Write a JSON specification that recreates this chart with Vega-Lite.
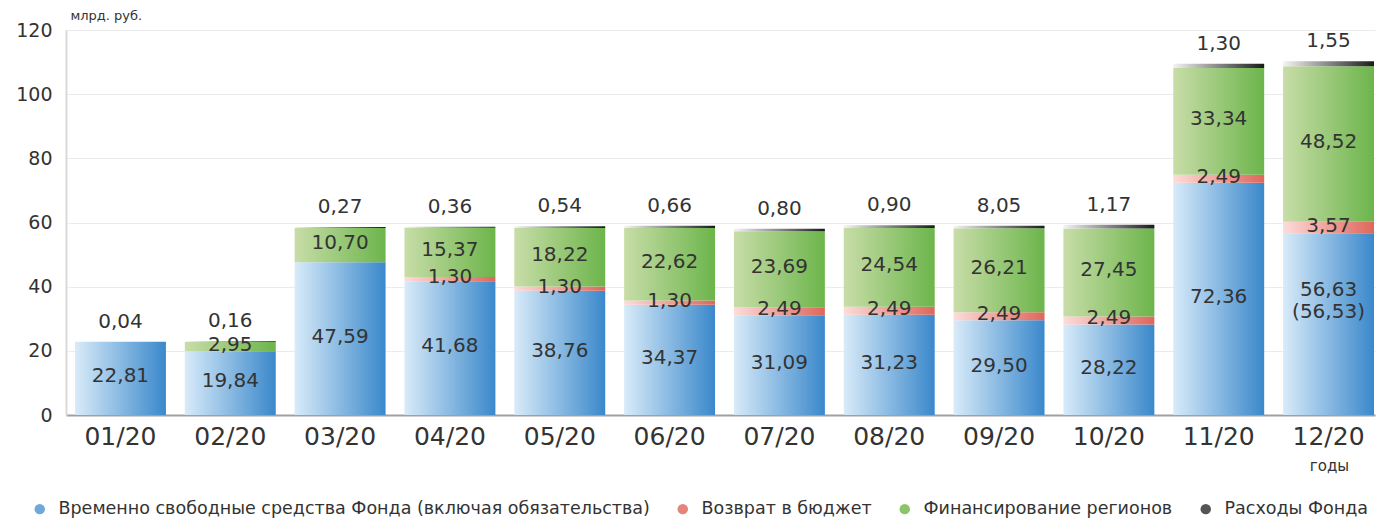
{
  "$schema": "https://vega.github.io/schema/vega-lite/v6.json",
  "autosize": {"type": "none"},
  "width": 1309,
  "height": 385,
  "padding": {"left": 66, "top": 30, "right": 3, "bottom": 103},
  "background": "white",
  "config": {
    "font": "DejaVu Sans",
    "view": {"stroke": null}
  },
  "data": {
    "values": [
      {"month": "01/20", "series": "Временно свободные средства Фонда (включая обязательства)", "order": 1, "value": 22.81, "label": "22,81"},
      {"month": "01/20", "series": "Расходы Фонда", "order": 4, "value": 0.04, "label": "0,04"},
      {"month": "02/20", "series": "Временно свободные средства Фонда (включая обязательства)", "order": 1, "value": 19.84, "label": "19,84"},
      {"month": "02/20", "series": "Финансирование регионов", "order": 3, "value": 2.95, "label": "2,95"},
      {"month": "02/20", "series": "Расходы Фонда", "order": 4, "value": 0.16, "label": "0,16"},
      {"month": "03/20", "series": "Временно свободные средства Фонда (включая обязательства)", "order": 1, "value": 47.59, "label": "47,59"},
      {"month": "03/20", "series": "Финансирование регионов", "order": 3, "value": 10.70, "label": "10,70"},
      {"month": "03/20", "series": "Расходы Фонда", "order": 4, "value": 0.27, "label": "0,27"},
      {"month": "04/20", "series": "Временно свободные средства Фонда (включая обязательства)", "order": 1, "value": 41.68, "label": "41,68"},
      {"month": "04/20", "series": "Возврат в бюджет", "order": 2, "value": 1.30, "label": "1,30"},
      {"month": "04/20", "series": "Финансирование регионов", "order": 3, "value": 15.37, "label": "15,37"},
      {"month": "04/20", "series": "Расходы Фонда", "order": 4, "value": 0.36, "label": "0,36"},
      {"month": "05/20", "series": "Временно свободные средства Фонда (включая обязательства)", "order": 1, "value": 38.76, "label": "38,76"},
      {"month": "05/20", "series": "Возврат в бюджет", "order": 2, "value": 1.30, "label": "1,30"},
      {"month": "05/20", "series": "Финансирование регионов", "order": 3, "value": 18.22, "label": "18,22"},
      {"month": "05/20", "series": "Расходы Фонда", "order": 4, "value": 0.54, "label": "0,54"},
      {"month": "06/20", "series": "Временно свободные средства Фонда (включая обязательства)", "order": 1, "value": 34.37, "label": "34,37"},
      {"month": "06/20", "series": "Возврат в бюджет", "order": 2, "value": 1.30, "label": "1,30"},
      {"month": "06/20", "series": "Финансирование регионов", "order": 3, "value": 22.62, "label": "22,62"},
      {"month": "06/20", "series": "Расходы Фонда", "order": 4, "value": 0.66, "label": "0,66"},
      {"month": "07/20", "series": "Временно свободные средства Фонда (включая обязательства)", "order": 1, "value": 31.09, "label": "31,09"},
      {"month": "07/20", "series": "Возврат в бюджет", "order": 2, "value": 2.49, "label": "2,49"},
      {"month": "07/20", "series": "Финансирование регионов", "order": 3, "value": 23.69, "label": "23,69"},
      {"month": "07/20", "series": "Расходы Фонда", "order": 4, "value": 0.80, "label": "0,80"},
      {"month": "08/20", "series": "Временно свободные средства Фонда (включая обязательства)", "order": 1, "value": 31.23, "label": "31,23"},
      {"month": "08/20", "series": "Возврат в бюджет", "order": 2, "value": 2.49, "label": "2,49"},
      {"month": "08/20", "series": "Финансирование регионов", "order": 3, "value": 24.54, "label": "24,54"},
      {"month": "08/20", "series": "Расходы Фонда", "order": 4, "value": 0.90, "label": "0,90"},
      {"month": "09/20", "series": "Временно свободные средства Фонда (включая обязательства)", "order": 1, "value": 29.50, "label": "29,50"},
      {"month": "09/20", "series": "Возврат в бюджет", "order": 2, "value": 2.49, "label": "2,49"},
      {"month": "09/20", "series": "Финансирование регионов", "order": 3, "value": 26.21, "label": "26,21"},
      {"month": "09/20", "series": "Расходы Фонда", "order": 4, "value": 0.805, "label": "8,05"},
      {"month": "10/20", "series": "Временно свободные средства Фонда (включая обязательства)", "order": 1, "value": 28.22, "label": "28,22"},
      {"month": "10/20", "series": "Возврат в бюджет", "order": 2, "value": 2.49, "label": "2,49"},
      {"month": "10/20", "series": "Финансирование регионов", "order": 3, "value": 27.45, "label": "27,45"},
      {"month": "10/20", "series": "Расходы Фонда", "order": 4, "value": 1.17, "label": "1,17"},
      {"month": "11/20", "series": "Временно свободные средства Фонда (включая обязательства)", "order": 1, "value": 72.36, "label": "72,36"},
      {"month": "11/20", "series": "Возврат в бюджет", "order": 2, "value": 2.49, "label": "2,49"},
      {"month": "11/20", "series": "Финансирование регионов", "order": 3, "value": 33.34, "label": "33,34"},
      {"month": "11/20", "series": "Расходы Фонда", "order": 4, "value": 1.30, "label": "1,30"},
      {"month": "12/20", "series": "Временно свободные средства Фонда (включая обязательства)", "order": 1, "value": 56.63, "label": "56,63\n(56,53)"},
      {"month": "12/20", "series": "Возврат в бюджет", "order": 2, "value": 3.57, "label": "3,57"},
      {"month": "12/20", "series": "Финансирование регионов", "order": 3, "value": 48.52, "label": "48,52"},
      {"month": "12/20", "series": "Расходы Фонда", "order": 4, "value": 1.55, "label": "1,55"}
    ]
  },
  "transform": [
    {"stack": "value", "groupby": ["month"], "sort": [{"field": "order", "order": "ascending"}], "as": ["y0", "y1"]}
  ],
  "encoding": {
    "x": {
      "field": "month",
      "type": "ordinal",
      "scale": {"paddingInner": 0.172, "paddingOuter": 0.0455, "align": 0.9},
      "axis": {
        "title": "годы",
        "titleFontSize": 15,
        "titleFontWeight": "normal",
        "titleColor": "#333333",
        "titleX": 1263,
        "titleY": 50,
        "titleBaseline": "middle",
        "labelAngle": 0,
        "labelFontSize": 25,
        "labelColor": "#333333",
        "labelPadding": 9,
        "ticks": false,
        "domainColor": "#a0a0a0",
        "domainWidth": 2,
        "grid": false
      }
    }
  },
  "layer": [
    {
      "mark": {"type": "bar"},
      "encoding": {
        "y": {
          "field": "y0",
          "type": "quantitative",
          "scale": {"domain": [0, 120], "nice": false},
          "axis": {
            "title": "млрд. руб.",
            "titleAngle": 0,
            "titleX": 4,
            "titleY": -15,
            "titleAlign": "left",
            "titleBaseline": "middle",
            "titleFontSize": 13,
            "titleFontWeight": "normal",
            "titleColor": "#333333",
            "values": [0, 10, 20, 30, 40, 50, 60, 70, 80, 90, 100, 110, 120],
            "labelExpr": "datum.value % 20 === 0 ? datum.label : ''",
            "labelFontSize": 19,
            "labelColor": "#333333",
            "labelPadding": 14,
            "ticks": false,
            "domainColor": "#d9d9d9",
            "domainWidth": 2,
            "gridColor": "#ebebeb",
            "gridWidth": 1
          }
        },
        "y2": {"field": "y1"},
        "color": {
          "condition": [
            {"test": "datum.order === 1", "value": {"gradient": "linear", "x1": 0, "y1": 0, "x2": 1, "y2": 0, "stops": [{"offset": 0, "color": "#d8ebf9"}, {"offset": 1, "color": "#3a88cb"}]}},
            {"test": "datum.order === 2", "value": {"gradient": "linear", "x1": 0, "y1": 0, "x2": 1, "y2": 0, "stops": [{"offset": 0, "color": "#fcdcda"}, {"offset": 1, "color": "#df665c"}]}},
            {"test": "datum.order === 3", "value": {"gradient": "linear", "x1": 0, "y1": 0, "x2": 1, "y2": 0, "stops": [{"offset": 0, "color": "#c8dda8"}, {"offset": 1, "color": "#6cb54b"}]}}
          ],
          "value": {"gradient": "linear", "x1": 0, "y1": 0, "x2": 1, "y2": 0, "stops": [{"offset": 0, "color": "#f4f4f4"}, {"offset": 1, "color": "#1a1a1a"}]}
        }
      }
    },
    {
      "mark": {"type": "point", "filled": true, "opacity": 0, "size": 1},
      "encoding": {
        "y": {"field": "y1", "type": "quantitative"},
        "color": {
          "field": "series",
          "type": "nominal",
          "scale": {
            "domain": ["Временно свободные средства Фонда (включая обязательства)", "Возврат в бюджет", "Финансирование регионов", "Расходы Фонда"],
            "range": ["#6fa8dc", "#e4857c", "#8cc46a", "#555555"]
          },
          "legend": {
            "title": null,
            "orient": "none",
            "legendX": -35,
            "legendY": 470,
            "direction": "horizontal",
            "symbolType": "circle",
            "symbolSize": 110,
            "symbolOpacity": 1,
            "symbolStrokeWidth": 0,
            "labelFontSize": 17.5,
            "labelColor": "#333333",
            "labelOffset": 10,
            "columnPadding": 24,
            "labelLimit": 800
          }
        }
      }
    },
    {
      "transform": [{"filter": "datum.order < 4"}],
      "mark": {
        "type": "text",
        "fontSize": 20,
        "color": "#333333",
        "baseline": "middle",
        "dy": {"expr": "indexof(datum.label, '\\n') >= 0 ? -34 : -2"},
        "lineBreak": "\n"
      },
      "encoding": {
        "y": {"value": {"expr": "scale('y', (datum.y0 + datum.y1) / 2)"}},
        "text": {"field": "label"}
      }
    },
    {
      "transform": [{"filter": "datum.order === 4"}],
      "mark": {"type": "text", "fontSize": 20, "color": "#333333", "baseline": "bottom", "dy": -10},
      "encoding": {
        "y": {"field": "y1", "type": "quantitative"},
        "text": {"field": "label"}
      }
    }
  ]
}
